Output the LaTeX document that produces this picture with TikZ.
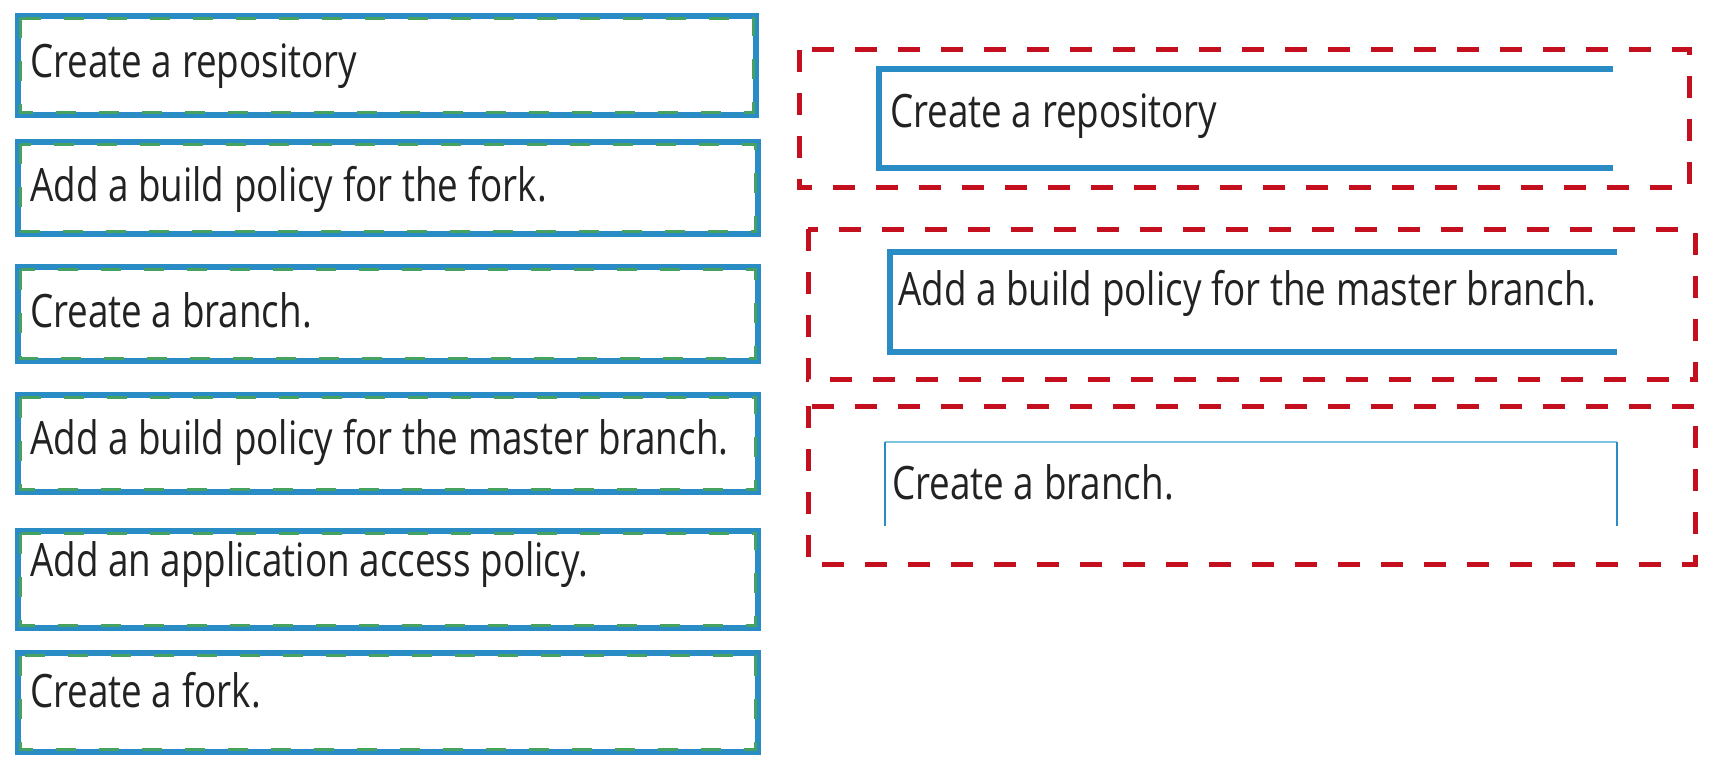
\documentclass[tikz,border=0pt]{standalone}
\usepackage{fontspec}
\setmainfont{Open Sans}
\definecolor{bboxblue}{HTML}{2A8CC4}
\definecolor{bboxgreen}{HTML}{45A260}
\definecolor{dashred}{HTML}{C4101E}
\definecolor{txtgray}{HTML}{222222}
\definecolor{thinblue}{HTML}{7FC3E0}
\newcommand{\lbltext}[1]{\scalebox{0.8}[1]{#1}}
\tikzset{
  blueline/.style={draw=bboxblue, line width=5.5pt},
  greendash/.style={draw=bboxgreen, line width=3.5pt, dash pattern=on 20pt off 23pt},
  redbox/.style={draw=dashred, line width=5pt, dash pattern=on 22pt off 21pt},
  innerline/.style={draw=bboxblue, line width=5.5pt},
  lbl/.style={anchor=base west, inner sep=0pt, font=\fontsize{46}{52}\selectfont, text=txtgray}
}
\newcommand{\lboxat}[4]{%
  \draw[blueline] (#1,#2) rectangle (#3,#4);
  \draw[greendash] (#1+2.5,#2+2.5) rectangle (#3-2.5,#4-2.5);}
\begin{document}
\begin{tikzpicture}[x=1pt,y=-1pt]
\useasboundingbox (0,0) rectangle (1734,770);
\fill[white] (0,0) rectangle (1734,770);
% left column
\lboxat{18}{16}{756}{115}
\node[lbl] (l1) at (30,78) {\lbltext{Create a repository}};
\lboxat{18}{142}{758}{234}
\node[lbl] (l2) at (30,202) {\lbltext{Add a build policy for the fork.}};
\lboxat{18}{267}{758}{361}
\node[lbl] (l3) at (30,327) {\lbltext{Create a branch.}};
\lboxat{18}{395}{758}{492}
\node[lbl] (l4) at (30,454) {\lbltext{Add a build policy for the master branch.}};
\lboxat{18}{531}{758}{628}
\node[lbl] (l5) at (30,576) {\lbltext{Add an application access policy.}};
\lboxat{18}{653}{758}{752}
\node[lbl] (l6) at (30,707) {\lbltext{Create a fork.}};
% right column
\draw[redbox] (799,50) rectangle (1689,188);
\draw[innerline] (1613,69) -- (879,69) -- (879,168) -- (1613,168);
\node[lbl] (r1) at (890,128) {\lbltext{Create a repository}};
\draw[redbox] (808,229) rectangle (1695,379);
\draw[innerline] (1617,252) -- (890,252) -- (890,352) -- (1617,352);
\node[lbl] (r2) at (898,305) {\lbltext{Add a build policy for the master branch.}};
\draw[redbox] (808,406) rectangle (1695,564);
\draw[thinblue, line width=1.3pt] (885,442) -- (1617,442);
\draw[bboxblue, line width=2.8pt] (885,442) -- (885,526);
\draw[bboxblue, line width=2.8pt] (1617,442) -- (1617,526);
\node[lbl] (r3) at (892,499) {\lbltext{Create a branch.}};
\end{tikzpicture}
\end{document}
